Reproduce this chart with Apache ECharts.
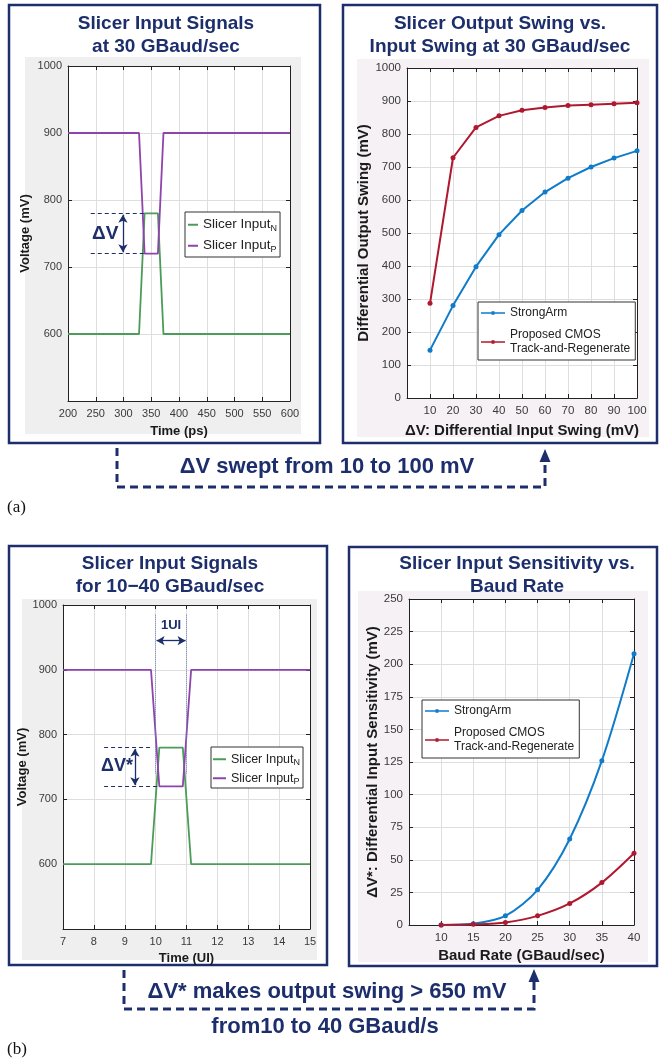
<!DOCTYPE html>
<html><head><meta charset="utf-8">
<script src="https://cdn.jsdelivr.net/npm/echarts@6/dist/echarts.min.js"></script>
<style>html,body{margin:0;padding:0;background:#fff}#c{width:660px;height:1061px}</style>
</head><body><div id="c"></div>
<script>
// ---------- DATA ----------
// (a) left: slicer input signals at 30 GBaud/sec (time in ps, voltage in mV)
const aTimePs   = [200, 328, 338, 362, 372, 600];
const aInputN   = [600, 600, 780, 780, 600, 600];
const aInputP   = [900, 900, 720, 720, 900, 900];
// (a) right: output swing vs input swing
const aSwingIn      = [10, 20, 30, 40, 50, 60, 70, 80, 90, 100];
const aStrongArm    = [145, 280, 398, 495, 568, 624, 666, 700, 727, 749];
const aProposed     = [287, 728, 820, 855, 872, 880, 886, 889, 892, 895];
// (b) left: slicer input signals, time in UI
const bTimeUI   = [7, 9.85, 10.12, 10.88, 11.15, 15];
const bInputN   = [600, 600, 780, 780, 600, 600];
const bInputP   = [900, 900, 720, 720, 900, 900];
// (b) right: input sensitivity vs baud rate
const bBaud         = [10, 15, 20, 25, 30, 35, 40];
const bStrongArm    = [0, 1, 7, 27, 66, 126, 208];
const bProposed     = [0, 0.5, 2, 7, 16.5, 32.5, 55];
// annotation anchors (data space)
const aDeltaHi = 780, aDeltaLo = 720;

const pairs = (xs, ys) => xs.map((x, i) => [x, ys[i]]);

const NAVY = '#1c2e6b';
const GREEN = '#4a9c58';
const PURPLE = '#8e44ad';
const BLUE = '#0f7bc9';
const RED = '#b0182f';
const FONT = 'Liberation Sans, Arial, sans-serif';

function fmt(v0){ return v => (v === v0 ? '' : String(v)); }

function xAx(grid, min, max, interval, name, gap, hide, nfs, lfs){
  return [{
    type:'value', gridIndex:grid, min, max, interval, position:'bottom',
    name, nameLocation:'middle', nameGap:gap,
    nameTextStyle:{fontFamily:FONT, fontWeight:'bold', fontSize:nfs, color:'#1a1a1a'},
    axisLine:{show:true, onZero:false, lineStyle:{color:'#222', width:1}},
    axisTick:{show:true, inside:true, length:4, lineStyle:{color:'#222'}},
    axisLabel:{fontFamily:FONT, fontSize:lfs, color:'#3a3a3a', margin:7, formatter: fmt(hide)},
    splitLine:{show:true, lineStyle:{color:'#dedede', width:1}}
  },{
    type:'value', gridIndex:grid, min, max, interval, position:'top',
    axisLine:{show:true, onZero:false, lineStyle:{color:'#222', width:1}},
    axisTick:{show:true, inside:true, length:4, lineStyle:{color:'#222'}},
    axisLabel:{show:false}, splitLine:{show:false}
  }];
}
function yAx(grid, min, max, interval, name, gap, hide, nfs, lfs){
  return [{
    type:'value', gridIndex:grid, min, max, interval, position:'left',
    name, nameLocation:'middle', nameGap:gap, nameRotate:90,
    nameTextStyle:{fontFamily:FONT, fontWeight:'bold', fontSize:nfs, color:'#1a1a1a'},
    axisLine:{show:true, onZero:false, lineStyle:{color:'#222', width:1}},
    axisTick:{show:true, inside:true, length:4, lineStyle:{color:'#222'}},
    axisLabel:{fontFamily:FONT, fontSize:lfs, color:'#3a3a3a', margin:6, formatter: fmt(hide)},
    splitLine:{show:true, lineStyle:{color:'#dedede', width:1}}
  },{
    type:'value', gridIndex:grid, min, max, interval, position:'right',
    axisLine:{show:true, onZero:false, lineStyle:{color:'#222', width:1}},
    axisTick:{show:true, inside:true, length:4, lineStyle:{color:'#222'}},
    axisLabel:{show:false}, splitLine:{show:false}
  }];
}

const xAxes = [].concat(
  xAx(0, 200, 600, 50, 'Time (ps)', 24, null, 13, 11),
  xAx(1, 0, 100, 10, 'ΔV: Differential Input Swing (mV)', 25, 0, 15, 11.5),
  xAx(2, 7, 15, 1, 'Time (UI)', 23, null, 13, 11),
  xAx(3, 5, 40, 5, 'Baud Rate (GBaud/sec)', 23, 5, 15, 11.5)
);
const yAxes = [].concat(
  yAx(0, 500, 1000, 100, 'Voltage (mV)', 36, 500, 13, 11),
  yAx(1, 0, 1000, 100, 'Differential Output Swing (mV)', 35, null, 15, 11.5),
  yAx(2, 500, 1000, 100, 'Voltage (mV)', 33, 500, 13, 11),
  yAx(3, 0, 250, 25, 'ΔV*: Differential Input Sensitivity (mV)', 29, null, 15, 11.5)
);

const dashed = {color:NAVY, type:[4,3], width:1.2};
function seg(x1,y1,x2,y2,style,arrow){
  const s = arrow ? 'arrow' : 'none';
  return [{coord:[x1,y1], symbol:s, symbolSize:arrow?[7,8]:0, lineStyle:style},
          {coord:[x2,y2], symbol:s, symbolSize:arrow?[7,8]:0, lineStyle:style}];
}
function txt(x,y,t,size){
  return {coord:[x,y], value:t, symbol:'rect', symbolSize:0,
    label:{show:true, position:'inside', formatter:t, fontFamily:FONT, fontWeight:'bold', fontSize:size, color:NAVY}};
}

const legendText = {
  N_a:'{t|Slicer Input}{s|N}', P_a:'{t|Slicer Input}{s|P}',
  N_b:'{t|Slicer Input}{s|N}', P_b:'{t|Slicer Input}{s|P}',
  SA_a:'StrongArm', TR_a:'Proposed CMOS\nTrack-and-Regenerate',
  SA_b:'StrongArm', TR_b:'Proposed CMOS\nTrack-and-Regenerate'
};
function richFor(fs){
  return {
    t:{fontFamily:FONT, fontSize:fs, color:'#222', lineHeight:fs+3},
    s:{fontFamily:FONT, fontSize:Math.round(fs*0.68), color:'#222', lineHeight:8, verticalAlign:'bottom', padding:[Math.round(fs*0.6),0,0,0]}
  };
}
const MARK_ICON = 'path://M0,4.2 H24 V5.8 H0 Z M10.5,3.2 H13.5 V6.8 H10.5 Z';
function legend(names, left, top, gap, fs, icon, iw, ih, pad){
  return {data:names.map(n => ({name:n, icon})), left, top, orient:'vertical', itemGap:gap, itemWidth:iw, itemHeight:ih,
    padding:pad, backgroundColor:'#fff', borderColor:'#333', borderWidth:1,
    selectedMode:false, formatter:n => legendText[n],
    textStyle:{fontFamily:FONT, fontSize:fs, color:'#222', lineHeight:fs+2, rich:richFor(fs)}};
}

const series = [
  {name:'N_a', type:'line', xAxisIndex:0, yAxisIndex:0, data:pairs(aTimePs, aInputN),
    symbol:'none', lineStyle:{color:GREEN, width:1.8}, itemStyle:{color:GREEN}},
  {name:'P_a', type:'line', xAxisIndex:0, yAxisIndex:0, data:pairs(aTimePs, aInputP),
    symbol:'none', lineStyle:{color:PURPLE, width:1.8}, itemStyle:{color:PURPLE},
    markLine:{silent:true, animation:false, label:{show:false}, data:[
      seg(241, aDeltaHi, 337, aDeltaHi, dashed),
      seg(241, aDeltaLo, 337, aDeltaLo, dashed),
      seg(299, aDeltaHi - 2, 299, aDeltaLo + 2, {color:NAVY, type:'solid', width:1.3}, true)
    ]},
    markPoint:{silent:true, animation:false, data:[txt(267, 750, 'ΔV', 19)]}},
  {name:'SA_a', type:'line', xAxisIndex:2, yAxisIndex:2, data:pairs(aSwingIn, aStrongArm),
    symbol:'circle', symbolSize:5, lineStyle:{color:BLUE, width:2}, itemStyle:{color:BLUE}},
  {name:'TR_a', type:'line', xAxisIndex:2, yAxisIndex:2, data:pairs(aSwingIn, aProposed),
    symbol:'circle', symbolSize:5, lineStyle:{color:RED, width:2}, itemStyle:{color:RED}},
  {name:'N_b', type:'line', xAxisIndex:4, yAxisIndex:4, data:pairs(bTimeUI, bInputN),
    symbol:'none', lineStyle:{color:GREEN, width:1.8}, itemStyle:{color:GREEN}},
  {name:'P_b', type:'line', xAxisIndex:4, yAxisIndex:4, data:pairs(bTimeUI, bInputP),
    symbol:'none', lineStyle:{color:PURPLE, width:1.8}, itemStyle:{color:PURPLE},
    markLine:{silent:true, animation:false, label:{show:false}, data:[
      seg(8.33, aDeltaHi, 9.92, aDeltaHi, dashed),
      seg(8.33, aDeltaLo, 10.05, aDeltaLo, dashed),
      seg(9.33, aDeltaHi - 2, 9.33, aDeltaLo + 2, {color:NAVY, type:'solid', width:1.3}, true),
      seg(10, 985, 10, 740, {color:'#6d80b8', type:'dotted', width:1}),
      seg(11, 985, 11, 740, {color:'#6d80b8', type:'dotted', width:1}),
      seg(10.03, 945, 10.97, 945, {color:NAVY, type:'solid', width:1.3}, true)
    ]},
    markPoint:{silent:true, animation:false, data:[txt(8.75, 752, 'ΔV*', 18), txt(10.5, 968, '1UI', 13)]}},
  {name:'SA_b', type:'line', xAxisIndex:6, yAxisIndex:6, data:pairs(bBaud, bStrongArm), smooth:0.3,
    symbol:'circle', symbolSize:5, lineStyle:{color:BLUE, width:2}, itemStyle:{color:BLUE}},
  {name:'TR_b', type:'line', xAxisIndex:6, yAxisIndex:6, data:pairs(bBaud, bProposed), smooth:0.3,
    symbol:'circle', symbolSize:5, lineStyle:{color:RED, width:2}, itemStyle:{color:RED}}
];

function title(x, y, t, size){
  return {type:'text', x, y, z:10, style:{text:t, x:0, y:0, align:'center', verticalAlign:'middle',
    font:'bold '+(size||19)+'px '+FONT, fill:NAVY}};
}
function frame(x,y,w,h){
  return {type:'rect', z:-20, shape:{x,y,width:w,height:h}, style:{fill:'#fff', stroke:NAVY, lineWidth:2.5}};
}
function bg(x,y,w,h,c){
  return {type:'rect', z:-10, shape:{x,y,width:w,height:h}, style:{fill:c, stroke:null}};
}
const conn = {stroke:NAVY, lineWidth:3, lineDash:[8,5], fill:null};

const graphic = [
  frame(9,5,311,438), bg(25,57,276,377,'#efefef'),
  frame(343,5,314,438), bg(357,59,292,378,'#f6f1f4'),
  frame(9,546,318,419), bg(22,599,295,361,'#efefef'),
  frame(349,547,308,419), bg(358,591,290,371,'#f6f1f4'),
  title(166,24,'Slicer Input Signals'), title(166,47,'at 30 GBaud/sec'),
  title(500,24,'Slicer Output Swing vs.'), title(500,47,'Input Swing at 30 GBaud/sec'),
  title(170,564,'Slicer Input Signals'), title(170,587,'for 10\u221240 GBaud/sec'),
  title(517,564,'Slicer Input Sensitivity vs.'), title(517,587,'Baud Rate'),
  {type:'polyline', shape:{points:[[117,448],[117,487],[545,487],[545,460]]}, style:conn},
  {type:'polygon', shape:{points:[[539.5,462],[550.5,462],[545,449]]}, style:{fill:NAVY}},
  title(327,467,'ΔV swept from 10 to 100 mV',22),
  {type:'polyline', shape:{points:[[124,970],[124,1009],[534,1009],[534,980]]}, style:conn},
  {type:'polygon', shape:{points:[[528.5,982],[539.5,982],[534,969]]}, style:{fill:NAVY}},
  title(327,992,'ΔV* makes output swing > 650 mV',22),
  title(325,1027,'from10 to 40 GBaud/s',22),
  {type:'text', x:7, y:499, style:{text:'(a)', font:'17px Liberation Serif, serif', fill:'#111'}},
  {type:'text', x:7, y:1041, style:{text:'(b)', font:'17px Liberation Serif, serif', fill:'#111'}}
];

const chart = echarts.init(document.getElementById('c'), null, {renderer:'canvas'});
chart.setOption({
  animation:false,
  backgroundColor:'#fff',
  grid:[
    {left:68, top:66, width:222, height:335, show:true, backgroundColor:'#fff', borderWidth:0},
    {left:407, top:68, width:230, height:330, show:true, backgroundColor:'#fff', borderWidth:0},
    {left:63, top:605, width:247, height:324, show:true, backgroundColor:'#fff', borderWidth:0},
    {left:409, top:599, width:225, height:326, show:true, backgroundColor:'#fff', borderWidth:0}
  ],
  xAxis:xAxes, yAxis:yAxes,
  legend:[
    legend(['N_a','P_a'], 185, 212, 4, 13.5, 'rect', 10, 2, [4,3,3,3]),
    legend(['SA_a','TR_a'], 478, 302, 8, 12, MARK_ICON, 24, 10, [4,5,4,3]),
    legend(['N_b','P_b'], 211, 747, 2, 12.5, 'rect', 13, 2, [3,3,2,2]),
    legend(['SA_b','TR_b'], 422, 700, 8, 12, MARK_ICON, 24, 10, [4,5,4,3])
  ],
  graphic, series
});
</script></body></html>
